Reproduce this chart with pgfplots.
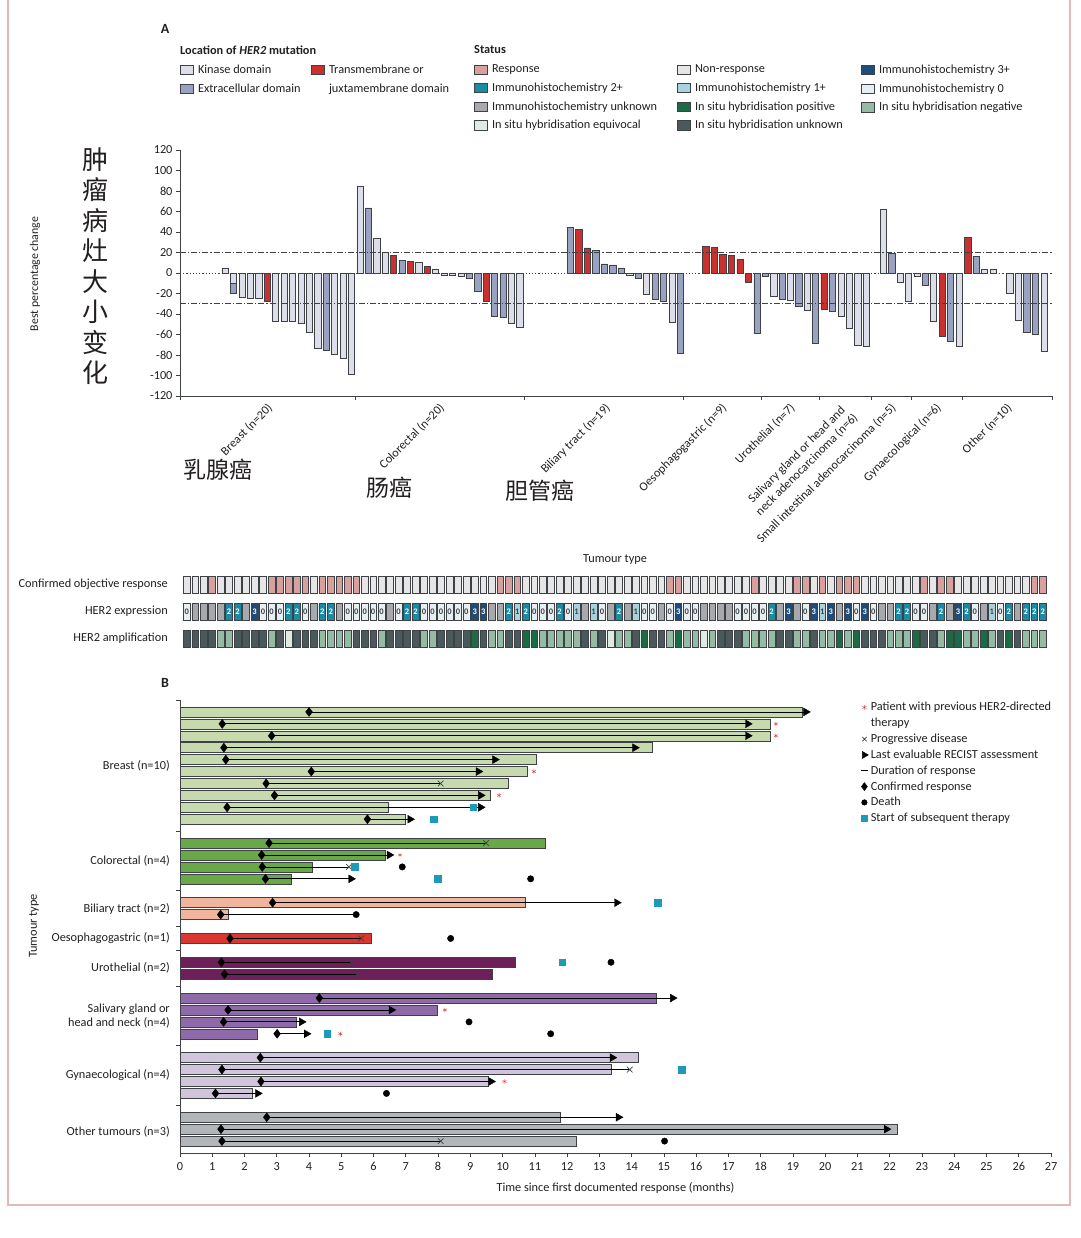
\documentclass[border=0pt]{standalone}
\usepackage{pgfplots}
\usepackage{pgfplotstable}
\pgfplotsset{compat=1.18}
\usepackage{fontspec}
\setmainfont{Carlito}
\newfontfamily\cjk{Noto Sans CJK SC}

\definecolor{kin}{HTML}{DCDFEA}
\definecolor{ext}{HTML}{9AA2C1}
\definecolor{tmd}{HTML}{C8312D}
\definecolor{edge}{HTML}{3E4246}
\definecolor{resp}{HTML}{D8A19E}
\definecolor{nresp}{HTML}{E6E6E6}
\definecolor{ihcthree}{HTML}{1E4D7B}
\definecolor{ihctwo}{HTML}{1A8AA5}
\definecolor{ihcone}{HTML}{A8D3DC}
\definecolor{ihczero}{HTML}{E8EFF3}
\definecolor{ihcunk}{HTML}{A7A9AC}
\definecolor{ishpos}{HTML}{1B6B45}
\definecolor{ishneg}{HTML}{95BBA4}
\definecolor{ishunk}{HTML}{4A5A5B}
\definecolor{isheq}{HTML}{DDEBE0}
\definecolor{cbreast}{HTML}{C6DAAE}
\definecolor{ccrc}{HTML}{68A847}
\definecolor{cbil}{HTML}{F1B49C}
\definecolor{coes}{HTML}{D8382F}
\definecolor{curo}{HTML}{6C1F58}
\definecolor{csal}{HTML}{8E6BA8}
\definecolor{cgyn}{HTML}{D1C5DC}
\definecolor{coth}{HTML}{B2B6B9}
\definecolor{sqc}{HTML}{1B9BB8}
\definecolor{astc}{HTML}{E0403A}
\definecolor{framec}{HTML}{E2B9BC}
\definecolor{txt}{HTML}{231F20}

\newcommand\fs{\fontsize{12.3}{14.2}\selectfont}

\pgfplotsset{
 legax/.style={hide axis, scale only axis, width=10pt, height=10pt, xmin=0,xmax=1,ymin=0,ymax=1, anchor=north west,
  legend cell align=left,
  legend style={at={(0,1)}, anchor=north west, draw=none, fill=none, inner sep=0pt, outer sep=0pt, font=\fs, row sep=5.6pt, column sep=0pt, nodes={inner sep=1.5pt, text=txt}},
  legend image code/.code={\draw[#1, line width=0.6pt] (0pt,-4.6pt) rectangle (13pt,4.6pt); \path (16pt,0pt);}},
 tileax/.style={hide axis, scale only axis, width=872pt, height=17pt, xmin=-0.79, xmax=102.1, ymin=0, ymax=1, anchor=south west},
 tilebar/.style={ybar, bar width=0.8, bar shift=0pt, draw=edge, line width=0.5pt},
 abar/.style={ybar, bar width=0.72, bar shift=0pt, draw=edge, line width=0.5pt},
 bbar/.style={xbar, bar width=0.84, bar shift=0pt, draw=edge, line width=0.5pt},
}

\pgfplotstableread{
i h m r e a
0 1 0.5 0 0 9
1 1 0.5 0 9 9
2 1 0.5 0 9 9
3 1 0.5 1 9 9
4 1 0.5 0 9 0
5 1 0.5 0 2 0
6 1 0.5 0 2 9
7 1 0.5 0 9 9
8 1 0.5 0 3 9
9 1 0.5 0 0 9
10 1 0.5 1 0 0
11 1 0.5 1 0 9
12 1 0.5 1 2 2
13 1 0.5 1 2 9
14 1 0.5 1 0 9
15 1 0.5 0 9 9
16 1 0.5 1 2 0
17 1 0.5 1 2 0
18 1 0.5 1 9 0
19 1 0.5 1 0 0
20 1 0.5 1 0 9
21 1 0.5 0 0 9
22 1 0.5 0 0 9
23 1 0.5 0 0 0
24 1 0.5 0 9 9
25 1 0.5 0 0 9
26 1 0.5 0 2 9
27 1 0.5 0 2 9
28 1 0.5 0 0 0
29 1 0.5 0 0 0
30 1 0.5 0 0 9
31 1 0.5 0 0 9
32 1 0.5 0 0 9
33 1 0.5 0 0 9
34 1 0.5 0 3 1
35 1 0.5 0 3 9
36 1 0.5 0 9 0
37 1 0.5 1 9 0
38 1 0.5 1 2 9
39 1 0.5 1 1 9
40 1 0.5 0 2 1
41 1 0.5 0 0 1
42 1 0.5 0 0 0
43 1 0.5 0 0 0
44 1 0.5 0 2 0
45 1 0.5 0 0 0
46 1 0.5 0 1 0
47 1 0.5 0 9 9
48 1 0.5 0 1 0
49 1 0.5 0 0 9
50 1 0.5 0 9 2
51 1 0.5 0 2 0
52 1 0.5 0 9 0
53 1 0.5 0 1 9
54 1 0.5 0 0 1
55 1 0.5 0 0 9
56 1 0.5 0 9 9
57 1 0.5 1 0 0
58 1 0.5 1 3 1
59 1 0.5 0 0 0
60 1 0.5 0 0 0
61 1 0.5 0 9 2
62 1 0.5 0 9 0
63 1 0.5 0 9 9
64 1 0.5 0 9 9
65 1 0.5 0 0 9
66 1 0.5 0 0 0
67 1 0.5 1 0 0
68 1 0.5 0 0 0
69 1 0.5 0 2 0
70 1 0.5 0 9 9
71 1 0.5 0 3 9
72 1 0.5 1 9 0
73 1 0.5 1 0 0
74 1 0.5 0 3 9
75 1 0.5 1 1 0
76 1 0.5 0 3 0
77 1 0.5 1 9 1
78 1 0.5 1 3 0
79 1 0.5 1 0 1
80 1 0.5 0 3 9
81 1 0.5 0 0 9
82 1 0.5 0 9 9
83 1 0.5 0 9 0
84 1 0.5 0 2 0
85 1 0.5 0 2 0
86 1 0.5 0 0 1
87 1 0.5 1 0 9
88 1 0.5 0 9 9
89 1 0.5 1 2 0
90 1 0.5 1 9 1
91 1 0.5 0 3 1
92 1 0.5 0 2 0
93 1 0.5 0 0 0
94 1 0.5 0 9 1
95 1 0.5 0 1 0
96 1 0.5 0 0 9
97 1 0.5 0 2 1
98 1 0.5 0 9 9
99 1 0.5 0 2 0
100 1 0.5 1 2 0
101 1 0.5 1 2 0
}\tiles

\begin{document}
\begin{tikzpicture}[font=\fs, text=txt]
\path[use as bounding box] (0pt,0pt) rectangle (1080pt,-1238pt);
\draw[framec, line width=1.2pt] (8pt,0pt) -- (8pt,-1205pt) -- (1070pt,-1205pt) -- (1070pt,0pt);

\node[font=\fontsize{14}{14}\selectfont\bfseries] at (165pt,-29pt) {A};
\node[font=\fontsize{14}{14}\selectfont\bfseries] at (165pt,-683pt) {B};

\node[anchor=west, font=\fs\bfseries, inner sep=0pt] at (180pt,-50pt) {Location of \textit{HER2} mutation};
\node[anchor=west, font=\fs\bfseries, inner sep=0pt] at (474pt,-50pt) {Status};

% ---- legends of A ----
\begin{axis}[legax, at={(180pt,-63.5pt)}]
\addlegendimage{fill=kin, draw=edge}\addlegendentry{Kinase domain}
\addlegendimage{fill=ext, draw=edge}\addlegendentry{Extracellular domain}
\end{axis}
\begin{axis}[legax, at={(311pt,-63.5pt)}]
\addlegendimage{fill=tmd, draw=edge}\addlegendentry{Transmembrane or}
\addlegendimage{legend image code/.code={\path (0pt,-4.6pt) (16pt,4.6pt);}}\addlegendentry{juxtamembrane domain}
\end{axis}
\begin{axis}[legax, at={(474pt,-63.5pt)}]
\addlegendimage{fill=resp, draw=edge}\addlegendentry{Response}
\addlegendimage{fill=ihctwo, draw=edge}\addlegendentry{Immunohistochemistry 2+}
\addlegendimage{fill=ihcunk, draw=edge}\addlegendentry{Immunohistochemistry unknown}
\addlegendimage{fill=isheq, draw=edge}\addlegendentry{In situ hybridisation equivocal}
\end{axis}
\begin{axis}[legax, at={(677pt,-63.5pt)}]
\addlegendimage{fill=nresp, draw=edge}\addlegendentry{Non-response}
\addlegendimage{fill=ihcone, draw=edge}\addlegendentry{Immunohistochemistry 1+}
\addlegendimage{fill=ishpos, draw=edge}\addlegendentry{In situ hybridisation positive}
\addlegendimage{fill=ishunk, draw=edge}\addlegendentry{In situ hybridisation unknown}
\end{axis}
\begin{axis}[legax, at={(861pt,-63.5pt)}]
\addlegendimage{fill=ihcthree, draw=edge}\addlegendentry{Immunohistochemistry 3+}
\addlegendimage{fill=ihczero, draw=edge}\addlegendentry{Immunohistochemistry 0}
\addlegendimage{fill=ishneg, draw=edge}\addlegendentry{In situ hybridisation negative}
\end{axis}

% ---- side labels ----
\node[rotate=90, font=\fontsize{11.8}{13}\selectfont] at (35pt,-274pt) {Best percentage change};
\node[font=\cjk\fontsize{26}{30.5}\selectfont, align=center, inner sep=0pt] at (95pt,-266pt) {肿\\瘤\\病\\灶\\大\\小\\变\\化};
\node[font=\cjk\fontsize{23}{23}\selectfont] at (218pt,-470pt) {乳腺癌};
\node[font=\cjk\fontsize{23}{23}\selectfont] at (389pt,-488pt) {肠癌};
\node[font=\cjk\fontsize{23}{23}\selectfont] at (540pt,-491pt) {胆管癌};

% ---- Panel A waterfall ----
\begin{axis}[at={(180pt,-396pt)}, anchor=south west, scale only axis, width=872pt, height=246pt,
 xmin=0, xmax=102, ymin=-120, ymax=120, clip=false,
 axis lines=left, axis line style={-, edge, line width=0.7pt},
 xtick={0,20.47,40.24,58.84,67.96,74.74,80.83,85.51,91.47,102}, xticklabels={},
 ytick={-120,-100,...,120},
 tick style={edge, line width=0.7pt}, major tick length=4pt, tick align=outside,
 yticklabel style={font=\fs, text=txt},
 /pgf/number format/assume math mode=true]
\addplot[abar, fill=kin] coordinates {(5.26,5)(7.24,-23.5)(8.22,-24.5)(9.21,-24.5)(11.18,-47)(12.17,-47)(13.16,-47)(14.15,-49.5)(15.13,-57.5)(16.12,-73)(18.09,-79.5)(19.07,-83)(20.06,-99)
(21.05,84.5)(23.02,34)(24.00,20.5)(27.93,10.5)(29.90,4)(30.88,-2)(31.87,-2)(32.86,-3)(38.75,-49)(39.74,-52.5)
(52.60,-2)(54.58,-20.5)(57.56,-48.5)
(69.46,-23)(71.40,-26.5)(73.39,-36)
(77.31,-42)(78.31,-54)(79.28,-70.5)(80.26,-71.5)
(82.28,62.5)(84.22,-9)(85.19,-28)
(86.20,-3)(88.14,-47.5)(91.13,-71.5)
(94.11,4)(95.09,4)(97.06,-20)(98.09,-46.5)(101.08,-76.5)};
\addplot[abar, fill=ext] coordinates {(6.25,-20)(17.11,-75.5)
(22.04,63.5)(25.97,12.5)(33.84,-5.5)(34.82,-18)(36.79,-42.5)(37.77,-43.5)
(45.65,44.5)(48.63,22)(49.62,9)(50.61,8)(51.61,5)(53.59,-5)(55.57,-25.5)(56.57,-27.5)(58.55,-78.5)
(67.48,-58.5)
(68.45,-3.5)(70.43,-25.5)(72.37,-32.5)(74.35,-68.5)
(76.34,-37.5)
(83.25,19)
(87.17,-12)(90.12,-67)
(93.11,16.5)(99.05,-57.5)(100.06,-60)};
\addplot[abar, fill=tmd] coordinates {(10.20,-27.5)
(24.99,17)(26.95,11.5)(28.92,6.5)(35.81,-27.5)
(46.65,42.5)(47.64,24.5)
(61.49,26)(62.49,25)(63.49,18.5)(64.49,17.5)(65.49,13.5)(66.49,-9)
(75.32,-35)
(89.15,-62)
(92.14,35)};
\addplot[abar, fill=kin] coordinates {(6.25,-10)};
\addplot[edge, line width=0.6pt, dash pattern=on 6pt off 2pt on 1.2pt off 2pt] coordinates {(0,20)(102,20)};
\addplot[edge, line width=0.6pt, dash pattern=on 1.2pt off 2pt] coordinates {(0,0)(102,0)};
\addplot[edge, line width=0.6pt, dash pattern=on 6pt off 2pt on 1.2pt off 2pt] coordinates {(0,-30)(102,-30)};
\path (axis cs:10.24,-120) ++(3pt,-10pt) node[rotate=45, anchor=east, inner sep=0pt] {Breast (n=20)};
\path (axis cs:30.35,-120) ++(3pt,-10pt) node[rotate=45, anchor=east, inner sep=0pt] {Colorectal (n=20)};
\path (axis cs:49.54,-120) ++(5pt,-10pt) node[rotate=45, anchor=east, inner sep=0pt] {Biliary tract (n=19)};
\path (axis cs:63.4,-120) ++(3pt,-10pt) node[rotate=45, anchor=east, inner sep=0pt] {Oesophagogastric (n=9)};
\path (axis cs:71.35,-120) ++(3pt,-10pt) node[rotate=45, anchor=east, inner sep=0pt] {Urothelial (n=7)};
\path (axis cs:77.79,-120) ++(6pt,-15pt) node[rotate=45, anchor=east, inner sep=0pt, align=center] {Salivary gland or head and\\neck adenocarcinoma (n=6)};
\path (axis cs:83.17,-120) ++(3pt,-10pt) node[rotate=45, anchor=east, inner sep=0pt] {Small intestinal adenocarcinoma (n=5)};
\path (axis cs:88.49,-120) ++(3pt,-10pt) node[rotate=45, anchor=east, inner sep=0pt] {Gynaecological (n=6)};
\path (axis cs:96.74,-120) ++(3pt,-10pt) node[rotate=45, anchor=east, inner sep=0pt] {Other (n=10)};
\end{axis}

% ---- tile rows ----
\node at (615pt,-560pt) {Tumour type};
\node[anchor=east, inner sep=0pt] at (168pt,-584pt) {Confirmed objective response};
\node[anchor=east, inner sep=0pt] at (168pt,-611pt) {HER2 expression};
\node[anchor=east, inner sep=0pt] at (168pt,-638pt) {HER2 amplification};

\begin{axis}[tileax, at={(180pt,-593pt)}]
\addplot[tilebar, fill=nresp] table[x=i, y=h, restrict expr to domain={\thisrow{r}}{-0.5:0.5}] {\tiles};
\addplot[tilebar, fill=resp] table[x=i, y=h, restrict expr to domain={\thisrow{r}}{0.5:1.5}] {\tiles};
\end{axis}
\begin{axis}[tileax, at={(180pt,-620pt)}]
\addplot[tilebar, fill=ihczero] table[x=i, y=h, restrict expr to domain={\thisrow{e}}{-0.5:0.5}] {\tiles};
\addplot[tilebar, fill=ihcone] table[x=i, y=h, restrict expr to domain={\thisrow{e}}{0.5:1.5}] {\tiles};
\addplot[tilebar, fill=ihctwo] table[x=i, y=h, restrict expr to domain={\thisrow{e}}{1.5:2.5}] {\tiles};
\addplot[tilebar, fill=ihcthree] table[x=i, y=h, restrict expr to domain={\thisrow{e}}{2.5:3.5}] {\tiles};
\addplot[tilebar, fill=ihcunk] table[x=i, y=h, restrict expr to domain={\thisrow{e}}{8.5:9.5}] {\tiles};
\addplot[draw=none, mark=none, nodes near coords, point meta=explicit symbolic,
  every node near coord/.append style={anchor=center, inner sep=0pt, font=\fontsize{8.5}{9}\selectfont\bfseries, text=edge}]
  table[x=i, y=m, meta=e, restrict expr to domain={\thisrow{e}}{-0.5:1.5}] {\tiles};
\addplot[draw=none, mark=none, nodes near coords, point meta=explicit symbolic,
  every node near coord/.append style={anchor=center, inner sep=0pt, font=\fontsize{8.5}{9}\selectfont\bfseries, text=white}]
  table[x=i, y=m, meta=e, restrict expr to domain={\thisrow{e}}{1.5:3.5}] {\tiles};
\end{axis}
\begin{axis}[tileax, at={(180pt,-647pt)}]
\addplot[tilebar, fill=ishneg] table[x=i, y=h, restrict expr to domain={\thisrow{a}}{-0.5:0.5}] {\tiles};
\addplot[tilebar, fill=ishpos] table[x=i, y=h, restrict expr to domain={\thisrow{a}}{0.5:1.5}] {\tiles};
\addplot[tilebar, fill=isheq] table[x=i, y=h, restrict expr to domain={\thisrow{a}}{1.5:2.5}] {\tiles};
\addplot[tilebar, fill=ishunk] table[x=i, y=h, restrict expr to domain={\thisrow{a}}{8.5:9.5}] {\tiles};
\end{axis}

% ---- Panel B swimmer ----
\node[rotate=90] at (34pt,-926pt) {Tumour type};
\begin{axis}[at={(180pt,-1153pt)}, anchor=south west, scale only axis, width=871pt, height=453pt,
 xmin=0, xmax=27, ymin=-38, ymax=0, clip=false,
 axis lines=left, axis line style={-, edge, line width=0.7pt},
 xtick={0,1,...,27}, ytick={-34,-29,-24,-21,-19,-16,-11,0}, yticklabels={},
 tick style={edge, line width=0.7pt}, major tick length=4pt, tick align=outside,
 xticklabel style={font=\fs, text=txt, yshift=-2pt},
 xlabel={Time since first documented response (months)}, xlabel style={font=\fs, text=txt, yshift=-5pt},
 /pgf/number format/assume math mode=true]
\addplot[bbar, fill=cbreast] coordinates {(19.3,-1)(18.3,-2)(18.3,-3)(14.64,-4)(11.04,-5)(10.77,-6)(10.18,-7)(9.63,-8)(6.46,-9)(6.97,-10)};
\addplot[bbar, fill=ccrc] coordinates {(11.33,-12)(6.35,-13)(4.10,-14)(3.46,-15)};
\addplot[bbar, fill=cbil] coordinates {(10.70,-17)(1.50,-18)};
\addplot[bbar, fill=coes] coordinates {(5.94,-20)};
\addplot[bbar, fill=curo] coordinates {(10.40,-22)(9.69,-23)};
\addplot[bbar, fill=csal] coordinates {(14.75,-25)(7.96,-26)(3.59,-27)(2.40,-28)};
\addplot[bbar, fill=cgyn] coordinates {(14.21,-30)(13.37,-31)(9.54,-32)(2.24,-33)};
\addplot[bbar, fill=coth] coordinates {(11.80,-35)(22.23,-36)(12.27,-37)};
\addplot[black, line width=0.8pt, unbounded coords=jump] coordinates {
(4.0,-1)(19.4,-1)(nan,nan)(1.31,-2)(17.6,-2)(nan,nan)(2.84,-3)(17.6,-3)(nan,nan)(1.36,-4)(14.1,-4)(nan,nan)
(1.42,-5)(9.76,-5)(nan,nan)(4.07,-6)(9.25,-6)(nan,nan)(2.67,-7)(8.08,-7)(nan,nan)(2.93,-8)(9.32,-8)(nan,nan)
(1.46,-9)(9.32,-9)(nan,nan)(5.81,-10)(7.13,-10)(nan,nan)
(2.76,-12)(9.49,-12)(nan,nan)(2.53,-13)(6.49,-13)(nan,nan)(2.55,-14)(5.24,-14)(nan,nan)(2.65,-15)(5.30,-15)(nan,nan)
(2.87,-17)(13.54,-17)(nan,nan)(1.26,-18)(5.46,-18)(nan,nan)(1.55,-20)(5.62,-20)(nan,nan)
(1.28,-22)(5.31,-22)(nan,nan)(1.38,-23)(5.49,-23)(nan,nan)
(4.32,-25)(15.27,-25)(nan,nan)(1.49,-26)(6.55,-26)(nan,nan)(1.35,-27)(3.77,-27)(nan,nan)(3.01,-28)(3.92,-28)(nan,nan)
(2.49,-30)(13.40,-30)(nan,nan)(1.30,-31)(13.94,-31)(nan,nan)(2.51,-32)(9.64,-32)(nan,nan)(1.10,-33)(2.41,-33)(nan,nan)
(2.69,-35)(13.59,-35)(nan,nan)(1.27,-36)(21.9,-36)(nan,nan)(1.30,-37)(8.08,-37)};
\addplot[only marks, mark=diamond*, mark size=4.5pt, black] coordinates {
(4.0,-1)(1.31,-2)(2.84,-3)(1.36,-4)(1.42,-5)(4.07,-6)(2.67,-7)(2.93,-8)(1.46,-9)(5.81,-10)
(2.76,-12)(2.53,-13)(2.55,-14)(2.65,-15)(2.87,-17)(1.26,-18)(1.55,-20)(1.28,-22)(1.38,-23)
(4.32,-25)(1.49,-26)(1.35,-27)(3.01,-28)(2.49,-30)(1.30,-31)(2.51,-32)(1.10,-33)(2.69,-35)(1.27,-36)(1.30,-37)};
\addplot[only marks, mark=triangle*, mark size=4.5pt, mark options={rotate=-90}, black] coordinates {
(19.4,-1)(17.6,-2)(17.6,-3)(14.1,-4)(9.76,-5)(9.25,-6)(9.32,-8)(9.32,-9)(7.13,-10)
(6.49,-13)(5.30,-15)(13.54,-17)(15.27,-25)(6.55,-26)(3.77,-27)(3.92,-28)(13.40,-30)(9.64,-32)(2.41,-33)(13.59,-35)(21.9,-36)};
\addplot[only marks, mark=x, mark size=4pt, line width=0.7pt, edge] coordinates {
(8.08,-7)(9.49,-12)(5.24,-14)(5.62,-20)(5.31,-22)(5.49,-23)(13.94,-31)(8.08,-37)};
\addplot[only marks, mark=*, mark size=3.2pt, black] coordinates {
(6.89,-14)(10.87,-15)(5.46,-18)(8.39,-20)(13.36,-22)(8.96,-27)(11.49,-28)(6.40,-33)(15.02,-37)};
\addplot[only marks, mark=square*, mark size=3.3pt, sqc] coordinates {
(9.09,-9)(7.87,-10)(5.42,-14)(7.98,-15)(14.81,-17)(11.85,-22)(4.56,-28)(15.56,-31)};
\addplot[only marks, mark=asterisk, mark size=2.3pt, astc] coordinates {
(18.47,-2)(18.47,-3)(10.97,-6)(9.89,-8)(6.82,-13)(8.21,-26)(4.97,-28)(10.06,-32)};
\node[anchor=east, inner sep=0pt] at ([xshift=-10pt]axis cs:0,-5.5) {Breast (n=10)};
\node[anchor=east, inner sep=0pt] at ([xshift=-10pt]axis cs:0,-13.5) {Colorectal (n=4)};
\node[anchor=east, inner sep=0pt] at ([xshift=-10pt]axis cs:0,-17.5) {Biliary tract (n=2)};
\node[anchor=east, inner sep=0pt] at ([xshift=-10pt]axis cs:0,-20) {Oesophagogastric (n=1)};
\node[anchor=east, inner sep=0pt] at ([xshift=-10pt]axis cs:0,-22.5) {Urothelial (n=2)};
\node[anchor=east, inner sep=0pt, align=right] at ([xshift=-10pt]axis cs:0,-26.5) {Salivary gland or\\head and neck (n=4)};
\node[anchor=east, inner sep=0pt] at ([xshift=-10pt]axis cs:0,-31.5) {Gynaecological (n=4)};
\node[anchor=east, inner sep=0pt] at ([xshift=-10pt]axis cs:0,-36.2) {Other tumours (n=3)};
\end{axis}

% ---- legend of B ----
\begin{axis}[hide axis, scale only axis, width=10pt, height=10pt, xmin=0,xmax=1,ymin=0,ymax=1, at={(860pt,-701pt)}, anchor=north west,
 legend cell align=left,
 legend style={at={(0,1)}, anchor=north west, draw=none, fill=none, inner sep=0pt, font=\fs, row sep=3.4pt, nodes={inner sep=1.2pt, text=txt}}]
\addlegendimage{legend image code/.code={\path (0pt,-3pt) (9pt,3pt); \draw[astc, mark=asterisk, mark size=2.3pt] plot coordinates {(4pt,0pt)};}}
\addlegendentry{Patient with previous HER2-directed}
\addlegendimage{legend image code/.code={\path (0pt,-3pt) (9pt,3pt);}}
\addlegendentry{therapy}
\addlegendimage{legend image code/.code={\path (0pt,-3pt) (9pt,3pt); \draw[edge, line width=0.7pt, mark=x, mark size=3pt] plot coordinates {(4pt,0pt)};}}
\addlegendentry{Progressive disease}
\addlegendimage{legend image code/.code={\path (0pt,-3pt) (9pt,3pt); \draw[black, fill=black, mark=triangle*, mark size=4pt, mark options={rotate=-90}] plot coordinates {(4pt,0pt)};}}
\addlegendentry{Last evaluable RECIST assessment}
\addlegendimage{legend image code/.code={\path (0pt,-3pt) (9pt,3pt); \draw[black, line width=0.8pt] (0.5pt,0pt) -- (7.5pt,0pt);}}
\addlegendentry{Duration of response}
\addlegendimage{legend image code/.code={\path (0pt,-3pt) (9pt,3pt); \draw[black, fill=black, mark=diamond*, mark size=4pt] plot coordinates {(4pt,0pt)};}}
\addlegendentry{Confirmed response}
\addlegendimage{legend image code/.code={\path (0pt,-3pt) (9pt,3pt); \draw[black, fill=black, mark=*, mark size=2.8pt] plot coordinates {(4pt,0pt)};}}
\addlegendentry{Death}
\addlegendimage{legend image code/.code={\path (0pt,-3pt) (9pt,3pt); \draw[sqc, fill=sqc, mark=square*, mark size=3pt] plot coordinates {(4pt,0pt)};}}
\addlegendentry{Start of subsequent therapy}
\end{axis}
\end{tikzpicture}
\end{document}
